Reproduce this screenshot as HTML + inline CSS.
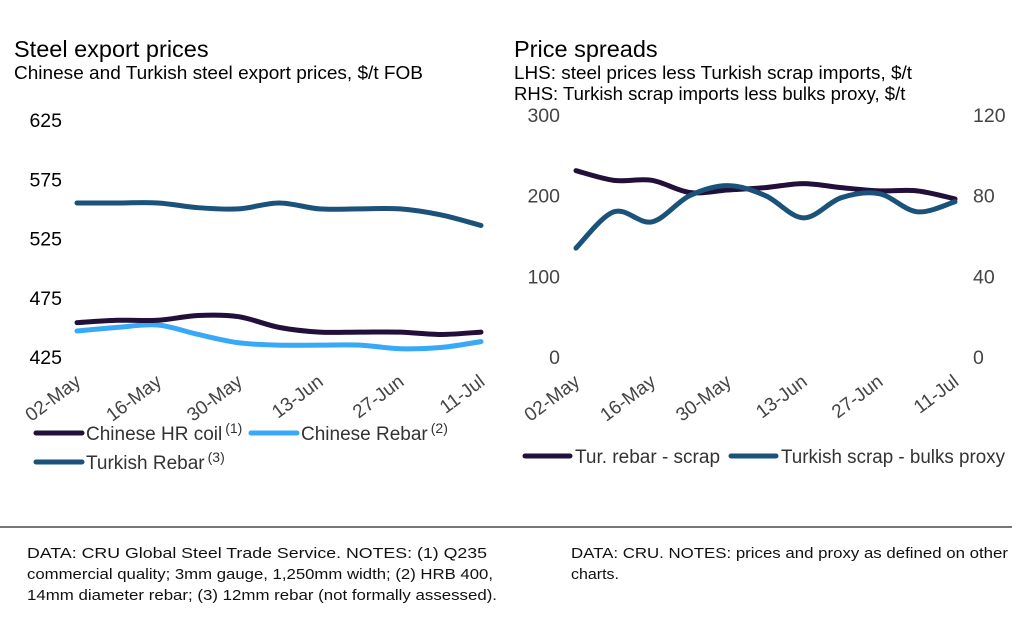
<!DOCTYPE html>
<html><head><meta charset="utf-8"><style>
html,body{margin:0;padding:0;background:#fff;}
svg{display:block;font-family:"Liberation Sans",Arial,sans-serif;}
</style></head><body>
<svg id="s" width="1024" height="621" viewBox="0 0 1024 621">
<text x="14" y="57" font-size="23.5" fill="#000">Steel export prices</text>
<text x="14" y="79" font-size="18.5" fill="#000" textLength="409" lengthAdjust="spacingAndGlyphs">Chinese and Turkish steel export prices, $/t FOB</text>
<text x="514" y="57" font-size="23.5" fill="#000">Price spreads</text>
<text x="514" y="79" font-size="18.5" fill="#000" textLength="398" lengthAdjust="spacingAndGlyphs">LHS: steel prices less Turkish scrap imports, $/t</text>
<text x="514" y="100" font-size="18.5" fill="#000">RHS: Turkish scrap imports less bulks proxy, $/t</text>
<g id="left"></g>
<g id="right"></g>
<g>
<line x1="36" y1="433" x2="82" y2="433" stroke="#22103a" stroke-width="5" stroke-linecap="round"/>
<text x="86" y="440" font-size="19" fill="#333">Chinese HR coil<tspan font-size="14" dx="3" dy="-7">(1)</tspan></text>
<line x1="251" y1="433" x2="297" y2="433" stroke="#38a8f8" stroke-width="5" stroke-linecap="round"/>
<text x="301" y="440" font-size="19" fill="#333">Chinese Rebar<tspan font-size="14" dx="3" dy="-7">(2)</tspan></text>
<line x1="36" y1="462" x2="82" y2="462" stroke="#1b527a" stroke-width="5" stroke-linecap="round"/>
<text x="86" y="469" font-size="19" fill="#333">Turkish Rebar<tspan font-size="14" dx="3" dy="-7">(3)</tspan></text>
</g>
<g>
<line x1="525" y1="456" x2="570" y2="456" stroke="#22103a" stroke-width="5" stroke-linecap="round"/>
<text x="575" y="463" font-size="19" fill="#333">Tur. rebar - scrap</text>
<line x1="731" y1="456" x2="776" y2="456" stroke="#1b527a" stroke-width="5" stroke-linecap="round"/>
<text x="781" y="463" font-size="19" fill="#333" textLength="224" lengthAdjust="spacingAndGlyphs">Turkish scrap - bulks proxy</text>
</g>
<line x1="0" y1="527" x2="1012" y2="527" stroke="#777" stroke-width="2"/>
<g font-size="15" fill="#111">
<text x="27" y="558" textLength="460" lengthAdjust="spacingAndGlyphs">DATA: CRU Global Steel Trade Service. NOTES: (1) Q235</text>
<text x="27" y="579" textLength="466" lengthAdjust="spacingAndGlyphs">commercial quality; 3mm gauge, 1,250mm width; (2) HRB 400,</text>
<text x="27" y="600" textLength="470" lengthAdjust="spacingAndGlyphs">14mm diameter rebar; (3) 12mm rebar (not formally assessed).</text>
<text x="571" y="558" textLength="437" lengthAdjust="spacingAndGlyphs">DATA: CRU.  NOTES: prices and proxy as defined on other</text>
<text x="571" y="579" textLength="48" lengthAdjust="spacingAndGlyphs">charts.</text>
</g>
</svg>
<script>
const dates = ["02-May","16-May","30-May","13-Jun","27-Jun","11-Jul"];
const leftTicks = [425,475,525,575,625];
const turkishRebar = [555,555,555,551,550,555,550,550,550,545,536];
const hrCoil = [454,456,456,460,459,450,446,446,446,444,446];
const chineseRebar = [447,450,452,444,437,435,435,435,432,433,438];
const rightLTicks = [0,100,200,300];
const rightRTicks = [0,40,80,120];
const rebarScrap = [231,219,219,204,207,210,215,210,206,206,196];
const scrapBulks = [54,72,67,80,85,80,69,79,81,72,77];

const NS="http://www.w3.org/2000/svg";
function mk(p,t,a){const e=document.createElementNS(NS,t);for(const k in a)e.setAttribute(k,a[k]);p.appendChild(e);return e;}
function smooth(pts){let d="M"+pts[0][0]+","+pts[0][1];for(let i=0;i<pts.length-1;i++){const p0=pts[Math.max(0,i-1)],p1=pts[i],p2=pts[i+1],p3=pts[Math.min(pts.length-1,i+2)];const c1x=p1[0]+(p2[0]-p0[0])/6,c1y=p1[1]+(p2[1]-p0[1])/6,c2x=p2[0]-(p3[0]-p1[0])/6,c2y=p2[1]-(p3[1]-p1[1])/6;d+=" C"+c1x+","+c1y+" "+c2x+","+c2y+" "+p2[0]+","+p2[1];}return d;}
function series(g,vals,xf,yf,color,name){const pts=vals.map((v,i)=>[xf(i),yf(v)]);const p=mk(g,"path",{d:smooth(pts),fill:"none",stroke:color,"stroke-width":5,"stroke-linecap":"round"});

}
function xlabels(g,xf,y){dates.forEach((d,j)=>{const x=xf(j*2);const t=mk(g,"text",{x:x+5,y:y,"font-size":19,fill:"#444","text-anchor":"end",transform:"rotate(-37 "+(x+5)+" "+y+")"});t.textContent=d;

});}

// left chart
const L=document.getElementById("left");
const lx=i=>77+i*40.4, ly=v=>357-(v-425)*(237/200);
leftTicks.forEach(v=>{const t=mk(L,"text",{x:62,y:ly(v)+7,"font-size":19.5,fill:"#000","text-anchor":"end"});t.textContent=v;

});
series(L,turkishRebar,lx,ly,"#1b527a","turkish-rebar-line");
series(L,chineseRebar,lx,ly,"#38a8f8","chinese-rebar-line");
series(L,hrCoil,lx,ly,"#22103a","hr-coil-line");
xlabels(L,lx,384);

// right chart
const R=document.getElementById("right");
const rx=i=>576+i*37.9, ryl=v=>357-v*(242/300), ryr=v=>357-v*(242/120);
rightLTicks.forEach(v=>{const t=mk(R,"text",{x:560,y:ryl(v)+7,"font-size":19.5,fill:"#444","text-anchor":"end"});t.textContent=v;

});
rightRTicks.forEach(v=>{const t=mk(R,"text",{x:973,y:ryr(v)+7,"font-size":19.5,fill:"#444"});t.textContent=v;

});
series(R,rebarScrap,rx,ryl,"#22103a","rebar-scrap-line");
series(R,scrapBulks,rx,ryr,"#1b527a","scrap-bulks-line");
xlabels(R,rx,384);
</script>
</body></html>
